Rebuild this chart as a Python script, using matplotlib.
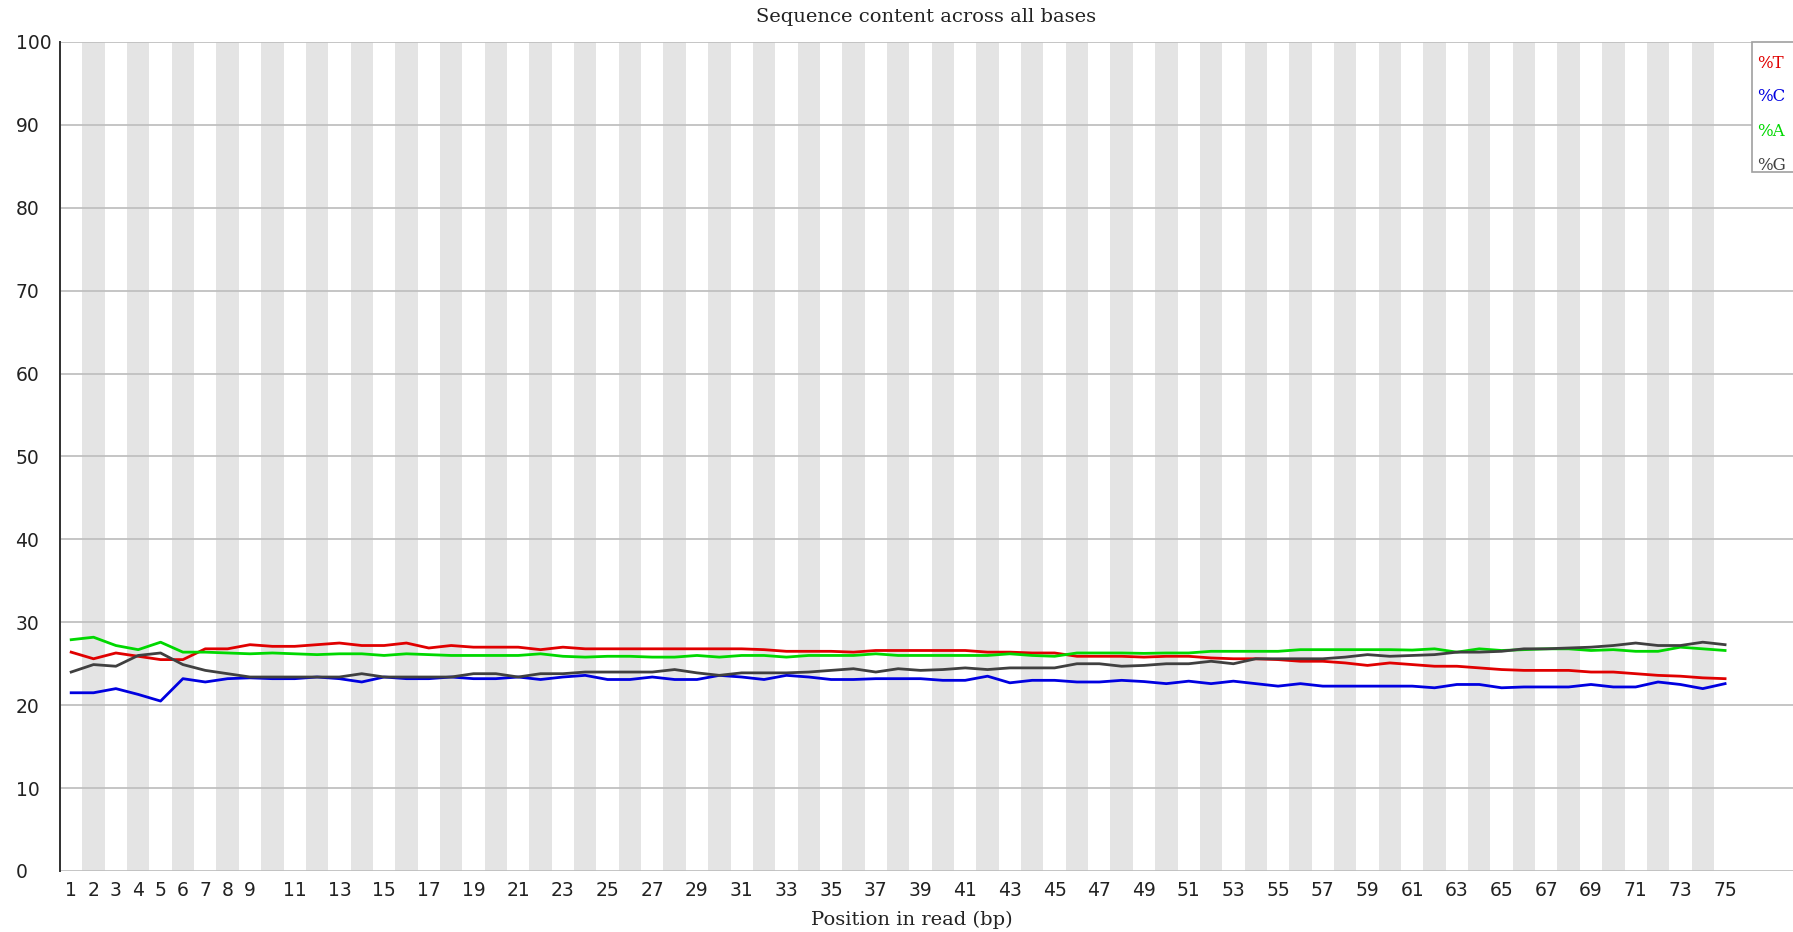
import matplotlib
matplotlib.use("Agg")
import matplotlib.pyplot as plt
from matplotlib.patches import Rectangle

# Per-base sequence content (% of each nucleotide at each read position)
positions = list(range(1, 76))

pct_T = [26.4, 25.6, 26.3, 25.9, 25.5, 25.5, 26.8, 26.8, 27.3, 27.1, 27.1, 27.3,
         27.5, 27.2, 27.2, 27.5, 26.9, 27.2, 27.0, 27.0, 27.0, 26.7, 27.0, 26.8,
         26.8, 26.8, 26.8, 26.8, 26.8, 26.8, 26.8, 26.7, 26.5, 26.5, 26.5, 26.4,
         26.6, 26.6, 26.6, 26.6, 26.6, 26.4, 26.4, 26.3, 26.3, 25.9, 25.9, 25.9,
         25.8, 25.9, 25.9, 25.7, 25.6, 25.6, 25.5, 25.3, 25.3, 25.1, 24.8, 25.1,
         24.9, 24.7, 24.7, 24.5, 24.3, 24.2, 24.2, 24.2, 24.0, 24.0, 23.8, 23.6,
         23.5, 23.3, 23.2]

pct_C = [21.5, 21.5, 22.0, 21.3, 20.5, 23.2, 22.8, 23.2, 23.3, 23.2, 23.2, 23.4,
         23.2, 22.8, 23.4, 23.2, 23.2, 23.4, 23.2, 23.2, 23.4, 23.1, 23.4, 23.6,
         23.1, 23.1, 23.4, 23.1, 23.1, 23.6, 23.4, 23.1, 23.6, 23.4, 23.1, 23.1,
         23.2, 23.2, 23.2, 23.0, 23.0, 23.5, 22.7, 23.0, 23.0, 22.8, 22.8, 23.0,
         22.85, 22.6, 22.9, 22.6, 22.9, 22.6, 22.3, 22.6, 22.3, 22.3, 22.3, 22.3,
         22.3, 22.1, 22.5, 22.5, 22.1, 22.2, 22.2, 22.2, 22.5, 22.2, 22.2, 22.8,
         22.5, 22.0, 22.6]

pct_A = [27.9, 28.2, 27.2, 26.7, 27.6, 26.4, 26.4, 26.3, 26.2, 26.3, 26.2, 26.1,
         26.2, 26.2, 26.0, 26.2, 26.1, 26.0, 26.0, 26.0, 26.0, 26.2, 25.9, 25.8,
         25.9, 25.9, 25.8, 25.8, 26.0, 25.8, 26.0, 26.0, 25.8, 26.0, 26.0, 26.0,
         26.2, 26.0, 26.0, 26.0, 26.0, 26.0, 26.2, 26.0, 25.9, 26.3, 26.3, 26.3,
         26.25, 26.3, 26.3, 26.5, 26.5, 26.5, 26.5, 26.7, 26.7, 26.7, 26.7, 26.7,
         26.65, 26.8, 26.4, 26.8, 26.6, 26.7, 26.8, 26.8, 26.6, 26.7, 26.5, 26.5,
         27.0, 26.8, 26.6]

pct_G = [24.0, 24.9, 24.7, 26.0, 26.3, 24.9, 24.2, 23.8, 23.4, 23.4, 23.4, 23.4,
         23.4, 23.8, 23.4, 23.4, 23.4, 23.4, 23.8, 23.8, 23.4, 23.8, 23.8, 24.0,
         24.0, 24.0, 24.0, 24.3, 23.9, 23.6, 23.9, 23.9, 23.9, 24.0, 24.2, 24.4,
         24.0, 24.4, 24.2, 24.3, 24.5, 24.3, 24.5, 24.5, 24.5, 25.0, 25.0, 24.7,
         24.8, 25.0, 25.0, 25.3, 25.0, 25.6, 25.6, 25.6, 25.6, 25.8, 26.1, 25.9,
         26.0, 26.1, 26.4, 26.4, 26.5, 26.8, 26.8, 26.9, 27.0, 27.2, 27.5, 27.2,
         27.2, 27.6, 27.3]

series_labels = ["%T", "%C", "%A", "%G"]
series_colors = ["#e00000", "#0000e0", "#00d800", "#404040"]

x_tick_labels = [str(p) for p in range(1, 10)] + [str(p) for p in range(11, 76, 2)]
y_ticks = list(range(0, 101, 10))

W, H = 1793, 932
fig = plt.figure(figsize=(W / 100, H / 100), dpi=100)
fig.patch.set_facecolor("white")

left_px, right_px, top_px, bottom_px = 60, 1793, 42, 871
ax = fig.add_axes([left_px / W, (H - bottom_px) / H,
                   (right_px - left_px) / W, (bottom_px - top_px) / H])
ax.set_facecolor("white")

# alternating stripes behind even positions
for p in positions:
    if p % 2 == 0:
        ax.axvspan(p - 0.5, p + 0.5, color="#e4e4e4", lw=0, zorder=0)

# horizontal grid
for y in y_ticks:
    ax.axhline(y, color="#c0c0c0", lw=1.3, zorder=1)

series = [pct_T, pct_C, pct_A, pct_G]
for vals, lab, col in zip(series, series_labels, series_colors):
    ax.plot(positions, vals, color=col, lw=2.0, label=lab, zorder=3,
            solid_joinstyle="round")

ax.set_xlim(0.5, 0.5 + (right_px - left_px) / 22.35)
ax.set_ylim(0, 100)

for side in ["top", "right", "bottom"]:
    ax.spines[side].set_visible(False)
ax.spines["left"].set_color("#303030")
ax.spines["left"].set_linewidth(1.4)

tick_font = dict(family="DejaVu Sans", size=13.5, color="#222222")
ax.set_yticks(y_ticks)
ax.set_yticklabels([str(v) for v in y_ticks], **tick_font)
for t in ax.get_yticklabels():
    t.set_horizontalalignment("left")
ax.tick_params(axis="y", length=0, pad=32)

x_tick_pos = [int(s) for s in x_tick_labels]
ax.set_xticks(x_tick_pos)
ax.set_xticklabels(x_tick_labels, **tick_font)
ax.tick_params(axis="x", length=0, pad=7)

fig.text(926 / W, 1 - 17 / H, "Sequence content across all bases",
         ha="center", va="center", family="DejaVu Serif", size=14,
         color="#222222")
fig.text(912 / W, 1 - 920 / H, "Position in read (bp)",
         ha="center", va="center", family="DejaVu Serif", size=14,
         color="#222222")

# legend box with coloured entries
box_left, box_top, box_bottom = 1752, 42, 172
fig.patches.append(Rectangle((box_left / W, 1 - box_bottom / H),
                             (W + 5 - box_left) / W, (box_bottom - box_top) / H,
                             transform=fig.transFigure, facecolor="white",
                             edgecolor="#a0a0a0", lw=1.2, zorder=5))
entry_y = [63, 97, 131, 165]
for lab, col, yy in zip(series_labels, series_colors, entry_y):
    fig.text(1757 / W, 1 - yy / H, lab, ha="left", va="center",
             family="DejaVu Serif", size=12, color=col, zorder=6)

fig.savefig("out.png", dpi=100, facecolor="white")
